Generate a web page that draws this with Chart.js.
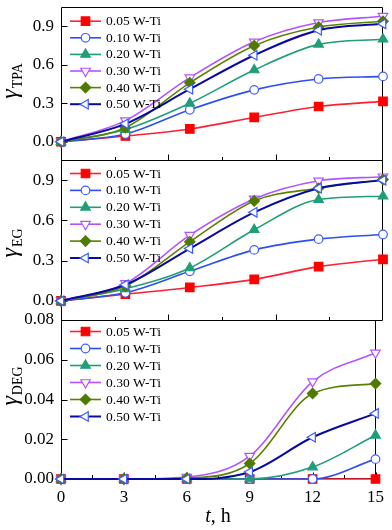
<!DOCTYPE html>
<html><head><meta charset="utf-8">
<script src="https://cdn.jsdelivr.net/npm/chart.js@4.4.1/dist/chart.umd.min.js"></script>
<style>
html,body{margin:0;padding:0;background:#fff;}
#wrap{position:relative;width:392px;height:530px;overflow:hidden;}
canvas{position:absolute;left:0;top:0;}
#err{position:absolute;left:0;top:0;font:10px monospace;color:#c00;z-index:10;}
</style></head><body>
<div id="wrap">
<canvas id="c1" width="392" height="530"></canvas>
<canvas id="c2" width="392" height="530"></canvas>
<canvas id="c3" width="392" height="530"></canvas>
<div id="err"></div>
</div>
<script>
// ---------- data ----------
const hours = [0, 3, 6, 9, 12, 15];
const seriesNames = ['0.05 W-Ti', '0.10 W-Ti', '0.20 W-Ti', '0.30 W-Ti', '0.40 W-Ti', '0.50 W-Ti'];

const tpa005 = [0, 0.045, 0.10, 0.19, 0.275, 0.315];
const tpa010 = [0, 0.06, 0.25, 0.405, 0.49, 0.51];
const tpa020 = [0, 0.095, 0.30, 0.56, 0.76, 0.80];
const tpa030 = [0, 0.165, 0.50, 0.78, 0.93, 0.98];
const tpa040 = [0, 0.11, 0.46, 0.75, 0.895, 0.94];
const tpa050 = [0, 0.14, 0.41, 0.675, 0.87, 0.92];

const eg005 = [0, 0.05, 0.10, 0.16, 0.255, 0.31];
const eg010 = [0, 0.06, 0.22, 0.38, 0.46, 0.495];
const eg020 = [0, 0.09, 0.245, 0.53, 0.755, 0.78];
const eg030 = [0, 0.13, 0.49, 0.76, 0.895, 0.925];
const eg040 = [0, 0.11, 0.44, 0.745, 0.84, 0.905];
const eg050 = [0, 0.12, 0.39, 0.66, 0.84, 0.90];

const deg005 = [0, 0, 0, 0, 0, 0];
const deg010 = [0, 0, 0, 0, 0, 0.010];
const deg020 = [0, 0, 0, 0, 0.006, 0.022];
const deg030 = [0, 0, 0.001, 0.0115, 0.049, 0.0635];
const deg040 = [0, 0, 0.0005, 0.0078, 0.043, 0.048];
const deg050 = [0, 0, 0, 0.0035, 0.021, 0.033];

const xTickLabels = [0, 3, 6, 9, 12, 15];
const yTicksFrac = [0, 0.3, 0.6, 0.9];
const yTicksDeg = [0, 0.02, 0.04, 0.06, 0.08];

// ---------- styles ----------
const lineColors = ['#ff1f33', '#2b4ff0', '#1f9e78', '#b353ff', '#5a8200', '#0a0aa0'];
const markerFill = ['#ff0000', '#ffffff', '#1f9e78', '#ffffff', '#4f7a00', '#ffffff'];
const markerBorder = ['#ff0000', '#3f5fff', '#1f9e78', '#b353ff', '#4f7a00', '#3a5cff'];
const markerStyle = ['rect', 'circle', 'triangle', 'triangle', 'rectRot', 'triangle'];
const markerRot = [0, 0, 0, 180, 0, -90];
const markerRad = [6, 4.3, 5.5, 5.5, 5.2, 5.5];
const lineW = [1.6, 1.6, 1.6, 1.6, 1.6, 2];

const SERIF = '"Liberation Serif", "Times New Roman", serif';

function showErr(e) {
  document.getElementById('err').textContent += ' ' + (e && e.message ? e.message : e);
}

function drawMarker(ctx, i, x, y) {
  ctx.save();
  ctx.fillStyle = markerFill[i];
  ctx.strokeStyle = markerBorder[i];
  ctx.lineWidth = 1.2;
  if (Chart.helpers && Chart.helpers.drawPoint) {
    Chart.helpers.drawPoint(ctx, {pointStyle: markerStyle[i], rotation: markerRot[i], radius: markerRad[i], borderWidth: 1.2}, x, y);
  }
  ctx.restore();
}

function drawFrame(chart, o) {
  const {ctx, chartArea: a, scales} = chart;
  ctx.save();
  ctx.strokeStyle = '#000';
  ctx.lineWidth = 1;
  const L = Math.round(a.left) + 0.5, T = Math.round(a.top) + 0.5;
  const R = Math.round(a.right) - 0.5, B = Math.round(a.bottom) - 0.5;
  ctx.beginPath();
  ctx.rect(L, T, R - L, B - T);
  const xMajor = Array.from(o.xMajor || []);
  const xMinor = Array.from(o.xMinor || []);
  xMajor.forEach(v => {
    const px = Math.round(scales.x.getPixelForValue(v)) + 0.5;
    ctx.moveTo(px, B); ctx.lineTo(px, B - 6);
  });
  xMinor.forEach(v => {
    const px = Math.round(scales.x.getPixelForValue(v)) + 0.5;
    ctx.moveTo(px, B); ctx.lineTo(px, B - 3.5);
  });
  scales.y.ticks.forEach(t => {
    const py = Math.round(scales.y.getPixelForValue(t.value)) + 0.5;
    ctx.moveTo(L, py); ctx.lineTo(L + 6, py);
  });
  ctx.stroke();
  ctx.restore();
}

const panelDeco = {
  id: 'panelDeco',
  beforeDatasetsDraw(chart, args, o) {
    try { drawFrame(chart, o); } catch (e) { showErr(e); }
  },
  afterDraw(chart, args, o) {
    try {
    const {ctx, chartArea: a} = chart;
    // legend
    ctx.save();
    chart.data.datasets.forEach((ds, i) => {
      const y = a.top + o.legTop + i * o.legGap;
      ctx.strokeStyle = lineColors[i];
      ctx.lineWidth = lineW[i];
      ctx.beginPath();
      ctx.moveTo(70, y); ctx.lineTo(101, y);
      ctx.stroke();
      drawMarker(ctx, i, 85.5, y);
      ctx.fillStyle = '#000';
      ctx.font = '13.5px ' + SERIF;
      ctx.textBaseline = 'middle';
      ctx.textAlign = 'left';
      ctx.fillText(ds.label, 106, y + 0.5);
    });
    ctx.restore();
    // y title: gamma with subscript, rotated
    ctx.save();
    ctx.translate(17, o.titleY);
    ctx.rotate(-Math.PI / 2);
    ctx.fillStyle = '#000';
    ctx.textBaseline = 'alphabetic';
    ctx.font = 'italic 24px ' + SERIF;
    const gW = ctx.measureText('γ').width;
    ctx.font = '14px ' + SERIF;
    const sW = ctx.measureText(o.sub).width;
    const start = -(gW + sW + 1) / 2;
    ctx.font = 'italic 24px ' + SERIF;
    ctx.textAlign = 'left';
    ctx.fillText('γ', start, 0);
    ctx.font = '14px ' + SERIF;
    ctx.fillText(o.sub, start + gW + 1, 5);
    ctx.restore();
    // x title on bottom panel
    if (o.xTitle) {
      ctx.save();
      ctx.fillStyle = '#000';
      ctx.textBaseline = 'alphabetic';
      ctx.font = 'italic 20px ' + SERIF;
      const tW = ctx.measureText('t').width;
      ctx.font = '20px ' + SERIF;
      const rW = ctx.measureText(', h').width;
      const x0 = 218 - (tW + rW) / 2;
      ctx.font = 'italic 20px ' + SERIF;
      ctx.textAlign = 'left';
      ctx.fillText('t', x0, 522);
      ctx.font = '20px ' + SERIF;
      ctx.fillText(', h', x0 + tW, 522);
      ctx.restore();
    }
    } catch (e) { showErr(e); }
  }
};

function makeChart(id, values, cfg) {
  const datasets = seriesNames.map((name, i) => ({
    label: name,
    data: hours.map((h, j) => ({x: h, y: values[i][j]})),
    borderColor: lineColors[i],
    borderWidth: lineW[i],
    backgroundColor: markerFill[i],
    pointStyle: markerStyle[i],
    pointRotation: markerRot[i],
    pointRadius: markerRad[i],
    pointBackgroundColor: markerFill[i],
    pointBorderColor: markerBorder[i],
    pointBorderWidth: 1.2,
    cubicInterpolationMode: 'monotone',
    fill: false,
    clip: false,
    order: seriesNames.length - i
  }));
  return new Chart(document.getElementById(id), {
    type: 'line',
    data: {datasets},
    options: {
      responsive: false,
      animation: false,
      events: [],
      layout: {padding: {left: 0, right: 9, top: cfg.top, bottom: cfg.bottom}},
      plugins: {
        legend: {display: false},
        tooltip: {enabled: false},
        panelDeco: cfg.deco
      },
      scales: {
        x: {
          type: 'linear', min: 0, max: 15,
          display: cfg.showX,
          afterBuildTicks: s => { s.ticks = xTickLabels.map(v => ({value: v})); },
          afterFit: s => { if (cfg.showX) s.height = 51; },
          grid: {display: false, drawTicks: false},
          border: {display: false},
          ticks: {padding: 8, color: '#000', font: {family: SERIF, size: 17}, maxRotation: 0, autoSkip: false}
        },
        y: {
          type: 'linear', min: cfg.yMin, max: cfg.yMax,
          afterBuildTicks: s => { s.ticks = cfg.yTicks.map(v => ({value: v})); },
          afterFit: s => { s.width = 61; s.paddingTop = 0; s.paddingBottom = 0; },
          grid: {display: false, drawTicks: false},
          border: {display: false},
          ticks: {padding: 7, color: '#000', font: {family: SERIF, size: 17},
                  callback: v => Number(v).toFixed(cfg.dec)}
        }
      }
    },
    plugins: [panelDeco]
  });
}

try {
makeChart('c1', [tpa005, tpa010, tpa020, tpa030, tpa040, tpa050], {
  top: 1, bottom: 530 - 161, showX: false, yMin: -0.15, yMax: 1.05, yTicks: yTicksFrac, dec: 1,
  deco: {xMajor: [5, 10], xMinor: [2.5, 7.5, 12.5], legTop: 14, legGap: 16.6, titleY: 81, sub: 'TPA'}
});
makeChart('c2', [eg005, eg010, eg020, eg030, eg040, eg050], {
  top: 160, bottom: 530 - 321, showX: false, yMin: -0.15, yMax: 1.05, yTicks: yTicksFrac, dec: 1,
  deco: {xMajor: [5, 10], xMinor: [2.5, 7.5, 12.5], legTop: 13.5, legGap: 16.9, titleY: 243, sub: 'EG'}
});
makeChart('c3', [deg005, deg010, deg020, deg030, deg040, deg050], {
  top: 320, bottom: 0, showX: true, yMin: 0, yMax: 0.08, yTicks: yTicksDeg, dec: 2,
  deco: {xMajor: [0, 3, 6, 9, 12, 15], xMinor: [1.5, 4.5, 7.5, 10.5, 13.5], legTop: 11.5, legGap: 17, titleY: 386, sub: 'DEG', xTitle: true}
});
} catch (e) { showErr(e); }
</script>
</body></html>
